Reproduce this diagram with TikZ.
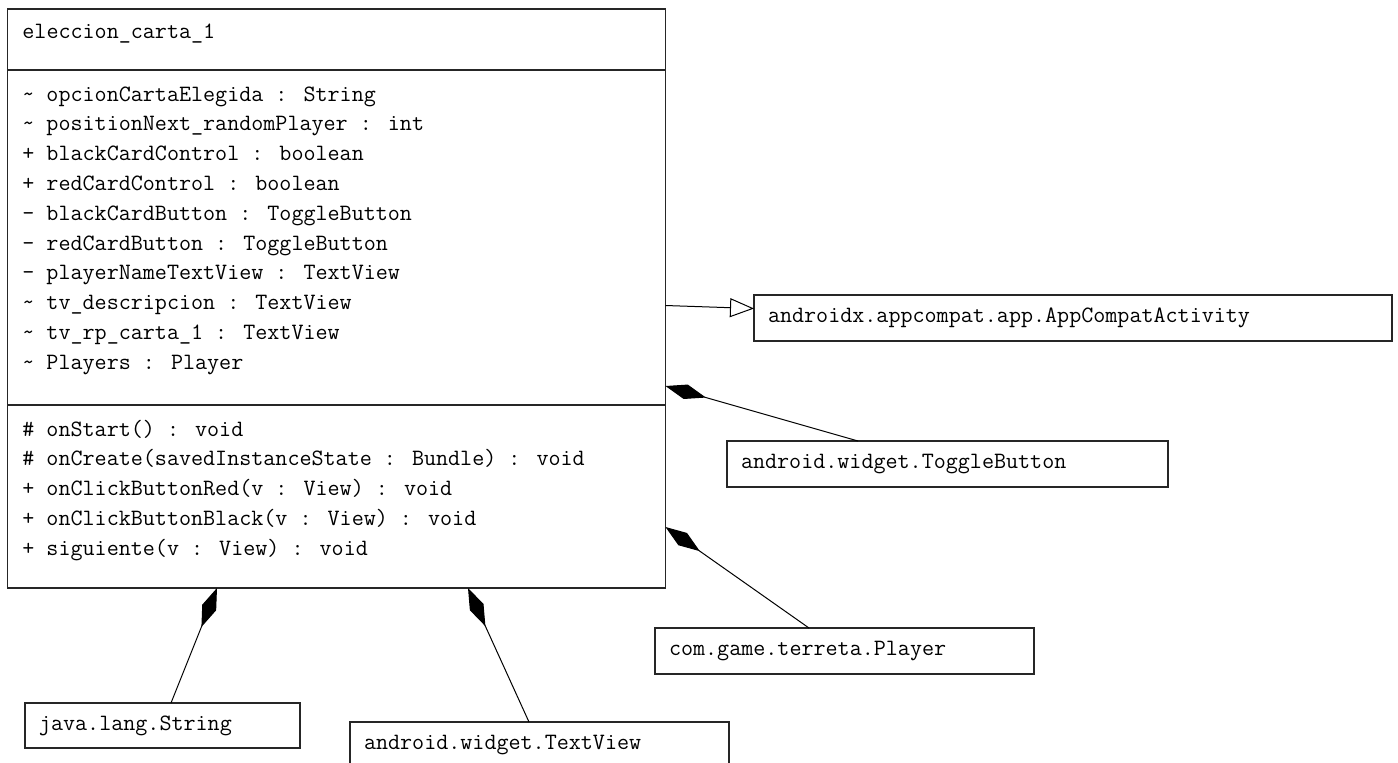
\documentclass[tikz,border=0pt]{standalone}
\usepackage{fontspec}
\usetikzlibrary{arrows.meta,calc}

\tikzset{
  umltext/.style={font=\ttfamily\fontsize{11.7pt}{13pt}\selectfont, text=black},
  member/.style={umltext, anchor=base west, inner sep=0pt},
  classbox/.style={draw=black!85, line width=0.8pt, outer sep=0pt, fill=white},
  refbox/.style={classbox, umltext, anchor=north west, inner xsep=7pt, inner ysep=0pt,
    minimum height=23pt, align=left},
  link/.style={draw=black, line width=0.5pt},
  composition/.style={link, {Diamond[length=21pt,width=7.5pt]}-},
  inheritance/.style={link, -{Triangle[open,length=12pt,width=9.5pt,fill=white]}}
}

\begin{document}
\begin{tikzpicture}[x=0.5pt, y=-0.5pt]
  \useasboundingbox (0,0) rectangle (1398,762);
  \fill[white] (0,0) rectangle (1398,762);

  % class eleccion_carta_1 with its three compartments
  \node[classbox, anchor=north west, minimum width=329pt, minimum height=289.5pt,
        inner sep=0pt] (cls) at (7.5,9) {};
  \draw[line width=0.8pt, draw=black!85] (cls.west |- 0,70) -- (cls.east |- 0,70);
  \draw[line width=0.8pt, draw=black!85] (cls.west |- 0,405) -- (cls.east |- 0,405);

  \node[member] (title) at (22,38) {eleccion\_carta\_1};

  \foreach \t [count=\i] in {
      {\textasciitilde\ opcionCartaElegida : String},
      {\textasciitilde\ positionNext\_randomPlayer : int},
      {+ blackCardControl : boolean},
      {+ redCardControl : boolean},
      {- blackCardButton : ToggleButton},
      {- redCardButton : ToggleButton},
      {- playerNameTextView : TextView},
      {\textasciitilde\ tv\_descripcion : TextView},
      {\textasciitilde\ tv\_rp\_carta\_1 : TextView},
      {\textasciitilde\ Players : Player}}
    \node[member] (attr\i) at (22,{101+29.8*(\i-1)}) {\t};

  \foreach \t [count=\i] in {
      {\# onStart() : void},
      {\# onCreate(savedInstanceState : Bundle) : void},
      {+ onClickButtonRed(v : View) : void},
      {+ onClickButtonBlack(v : View) : void},
      {+ siguiente(v : View) : void}}
    \node[member] (op\i) at (22,{436+29.8*(\i-1)}) {\t};

  % referenced classes
  \node[refbox, text width=305pt] (ac) at (754,295) {androidx.appcompat.app.AppCompatActivity};
  \node[refbox, text width=206.5pt] (tb) at (727,441) {android.widget.ToggleButton};
  \node[refbox, text width=175.5pt] (pl) at (655,628) {com.game.terreta.Player};
  \node[refbox, text width=123.5pt, minimum height=22.5pt] (st) at (25,703) {java.lang.String};
  \node[refbox, text width=175.5pt] (tv) at (350,722) {android.widget.TextView};

  % generalization
  \draw[inheritance] ($(cls.north east)+(0,296.5)$) -- (ac.west |- 0,308.5);

  % compositions
  \draw[composition] ($(cls.north east)+(0,377)$) -- ($(tb.north west)+(131,0)$);
  \draw[composition] ($(cls.north east)+(0,518)$) -- ($(pl.north west)+(154,0)$);
  \draw[composition] ($(cls.south west)+(209.5,0)$) -- ($(st.north west)+(146,0)$);
  \draw[composition] ($(cls.south west)+(460.5,0)$) -- ($(tv.north west)+(179,0)$);
\end{tikzpicture}
\end{document}
